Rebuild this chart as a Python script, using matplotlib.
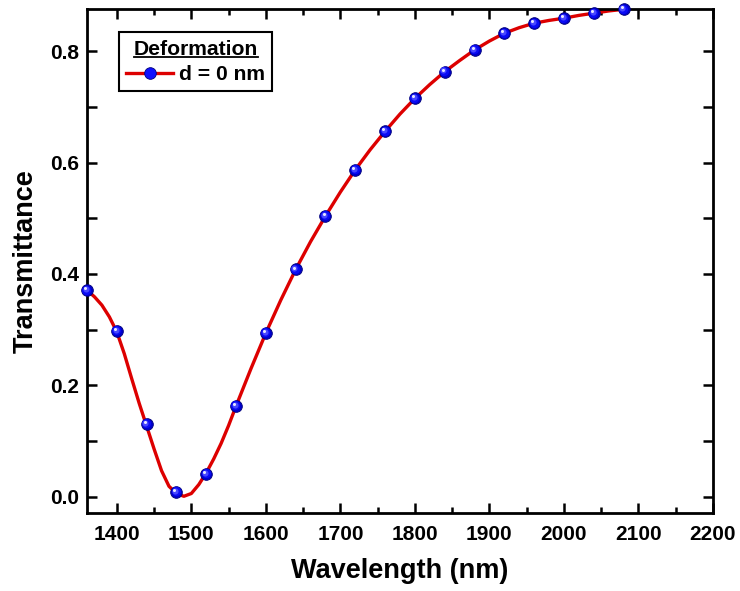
import matplotlib.pyplot as plt
import matplotlib.transforms as mtransforms
from matplotlib.lines import Line2D
from matplotlib.ticker import MultipleLocator

# marker points
wavelength = [1360, 1400, 1440, 1480, 1520, 1560, 1600, 1640, 1680, 1720,
              1760, 1800, 1840, 1880, 1920, 1960, 2000, 2040, 2080]
transmittance = [0.371, 0.298, 0.131, 0.009, 0.041, 0.163, 0.294, 0.408, 0.504, 0.587,
                 0.656, 0.715, 0.763, 0.802, 0.832, 0.850, 0.859, 0.868, 0.875]

# smooth red curve, read at a finer step
curve_wl = [1360, 1370, 1380, 1390, 1400, 1410, 1420, 1430, 1440, 1450, 1460, 1470,
            1480, 1490, 1500, 1510, 1520, 1530, 1540, 1550, 1560, 1580, 1600, 1620,
            1640, 1660, 1680, 1700, 1720, 1740, 1760, 1780, 1800, 1820, 1840, 1860,
            1880, 1900, 1920, 1940, 1960, 1980, 2000, 2020, 2040, 2060, 2080, 2100]
curve_t = [0.371, 0.359, 0.344, 0.323, 0.296, 0.257, 0.212, 0.168, 0.127, 0.086, 0.047, 0.019,
           0.006, 0.001, 0.006, 0.022, 0.043, 0.068, 0.096, 0.128, 0.163, 0.230, 0.294, 0.353,
           0.408, 0.458, 0.504, 0.547, 0.587, 0.623, 0.656, 0.687, 0.715, 0.740, 0.763, 0.783,
           0.802, 0.818, 0.832, 0.842, 0.850, 0.855, 0.859, 0.864, 0.868, 0.872, 0.875, 0.879]

plt.rcParams['font.family'] = ['Liberation Sans', 'DejaVu Sans']
plt.rcParams['font.weight'] = 'bold'

fig = plt.figure(figsize=(7.4, 5.91), dpi=100)
ax = fig.add_axes([87 / 740, 1 - 513 / 591, 626 / 740, 504 / 591])

ax.plot(curve_wl, curve_t, color='#dd0000', lw=2.4, zorder=2)

# shaded "sphere" markers: stacked circles shifted toward upper left
layers = [(8.4, '#0000cc', 0.0), (6.6, '#0b0bf5', 0.4), (4.4, '#4848ff', 0.9), (2.2, '#e6e6ff', 1.4)]
for size, col, off in layers:
    tr = mtransforms.offset_copy(ax.transData, fig=fig, x=-off, y=off, units='points')
    ax.plot(wavelength, transmittance, ls='none', marker='o', ms=size, mfc=col,
            mec='#00007a' if off == 0 else 'none', mew=0.6, transform=tr,
            clip_on=False, zorder=3)

ax.set_xlim(1360, 2200)
ax.set_ylim(-0.029, 0.8755)
ax.xaxis.set_major_locator(MultipleLocator(100))
ax.xaxis.set_minor_locator(MultipleLocator(50))
ax.yaxis.set_major_locator(MultipleLocator(0.2))
ax.yaxis.set_minor_locator(MultipleLocator(0.1))

ax.tick_params(which='both', direction='in', top=True, right=True, width=1.8)
ax.tick_params(which='major', length=7, labelsize=15)
ax.tick_params(axis='x', which='major', pad=9)
ax.tick_params(axis='y', which='major', pad=6)
ax.tick_params(axis='x', which='minor', length=4)
ax.tick_params(axis='y', which='minor', length=7)
for s in ax.spines.values():
    s.set_linewidth(2)

ax.set_xlabel('Wavelength (nm)', fontsize=19.5, fontweight='bold', labelpad=10)
ax.set_ylabel('Transmittance', fontsize=19.5, fontweight='bold', labelpad=8)

proxy = Line2D([], [], color='#dd0000', lw=2.4, marker='o', ms=8.4,
               mfc='#1010ff', mec='#00007a', mew=0.6)
leg = ax.legend([proxy], ['d = 0 nm'], title='Deformation', loc='upper left',
                bbox_to_anchor=(0.051, 0.954), borderaxespad=0, fancybox=False,
                edgecolor='black', framealpha=1, fontsize=15.2, title_fontsize=15.2,
                handlelength=2.2, handletextpad=0.3, borderpad=0.35, labelspacing=0.3)
leg.get_frame().set_linewidth(1.5)
leg.get_title().set_fontweight('bold')

# underline the legend title
fig.canvas.draw()
bb = leg.get_title().get_window_extent().transformed(fig.transFigure.inverted())
uy = bb.y0 + 2 / 591
fig.add_artist(Line2D([bb.x0, bb.x1], [uy, uy], transform=fig.transFigure,
                      color='black', lw=1.3))

plt.savefig('out.png', dpi=100)
